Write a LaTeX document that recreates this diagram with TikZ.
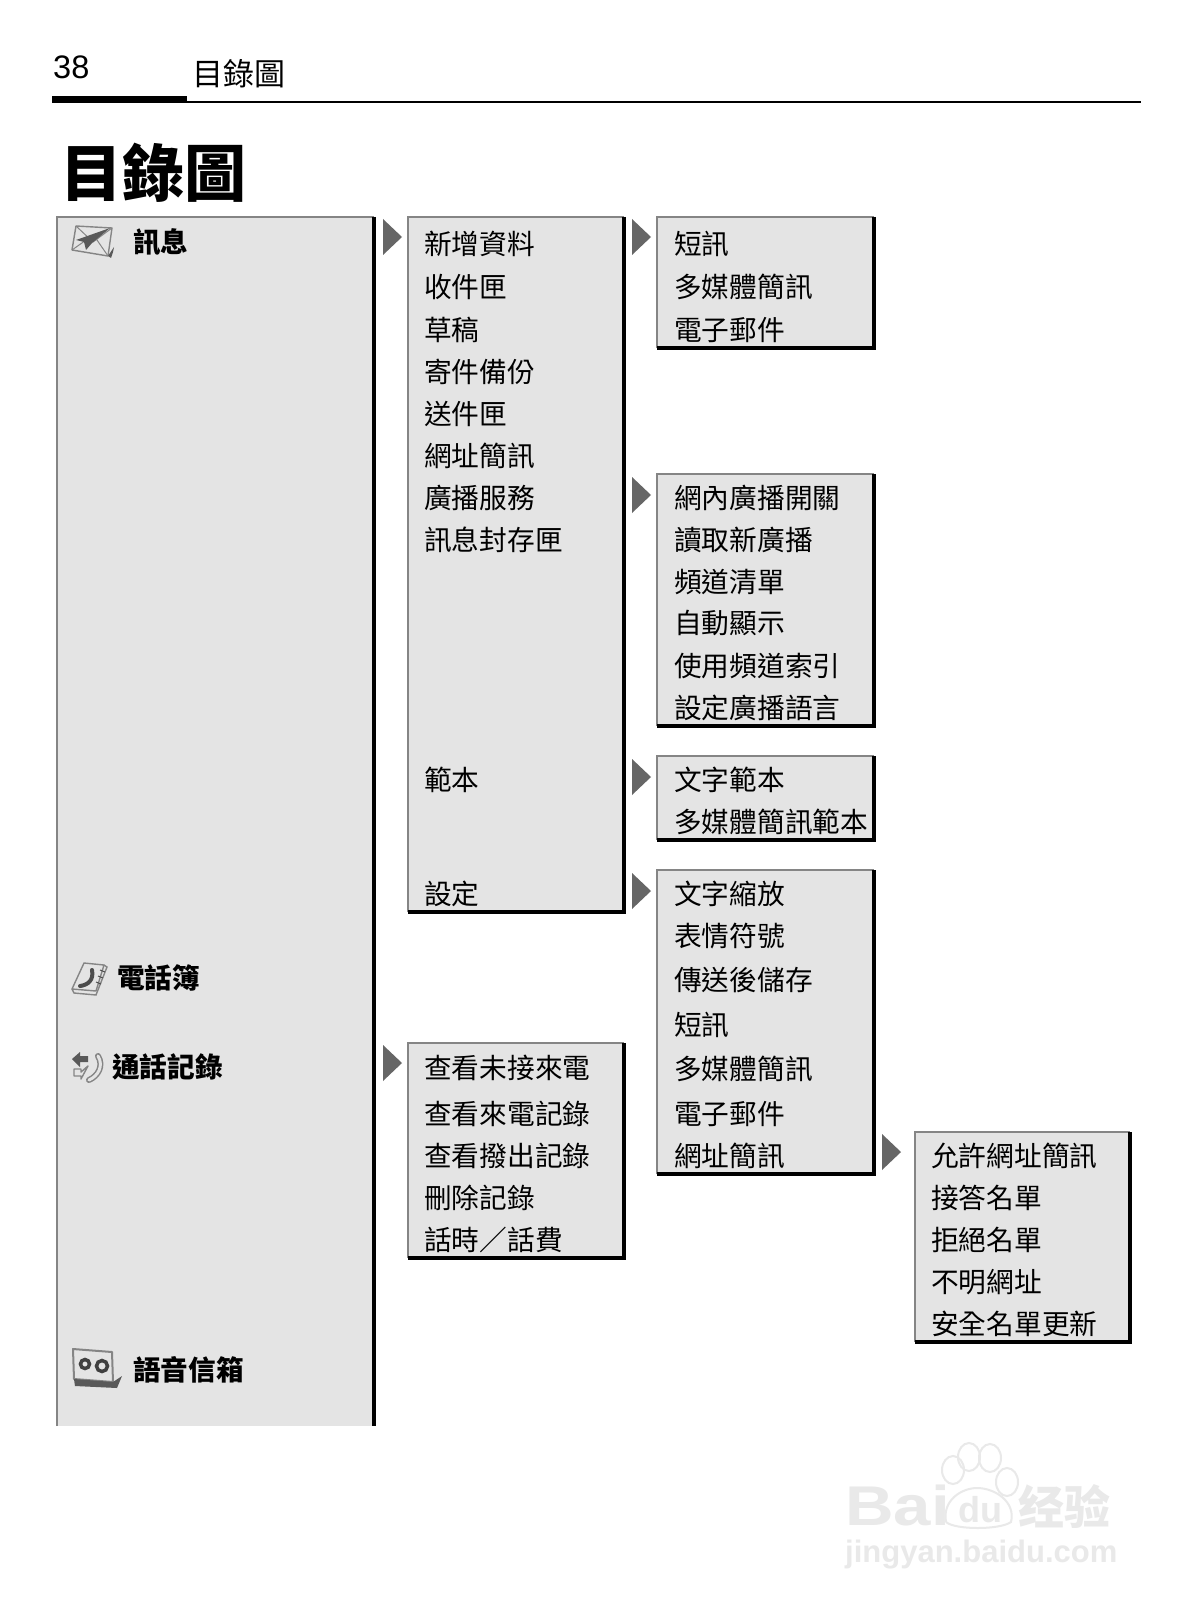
\documentclass[tikz,border=0pt]{standalone}
\usepackage{fontspec}
\setmainfont{Liberation Sans}
\newfontfamily\cjk{Noto Sans CJK TC}
\usetikzlibrary{positioning}
\definecolor{panelgray}{HTML}{E4E4E4}
\definecolor{edgegray}{HTML}{858585}
\definecolor{tipgray}{HTML}{666666}
\definecolor{markgray}{HTML}{E9E9E9}
\tikzset{
  menuitem/.style={anchor=west, inner sep=0pt, font=\cjk\fontsize{27.7}{30}\selectfont},
  rootitem/.style={anchor=west, inner sep=0pt, font=\cjk\bfseries\fontsize{27.6}{30}\selectfont},
  panel/.style={fill=panelgray},
  panellight/.style={draw=edgegray, line width=2pt},
  paneldark/.style={draw=black, line width=3.5pt},
  icon/.style={draw=edgegray, line width=1.4pt, fill=panelgray, line join=round},
  icondark/.style={fill=black!65}
}
\begin{document}
\begin{tikzpicture}[x=1pt, y=-1pt]
  \useasboundingbox[fill=white] (0,0) rectangle (1189,1621);

  % Page header
  \fill (52,96) rectangle (187,103);
  \draw[line width=2pt] (52,102) -- (1141,102);
  \node[anchor=west, inner sep=0pt, font=\fontsize{32.5}{34}\selectfont] (pagenum) at (53,67) {38};
  \node[anchor=west, inner sep=0pt, font=\cjk\fontsize{31}{32}\selectfont] (headtitle) at (192,74) {目錄圖};
  \node[anchor=west, inner sep=0pt, font=\cjk\bfseries\fontsize{62}{64}\selectfont] (pagetitle) at (60,173) {目錄圖};

  % Root panel, open at the bottom
  \fill[panel] (57,217) rectangle (374,1426);
  \draw[panellight] (57,1426) -- (57,217) -- (374,217);
  \draw[line width=4pt] (374,217) -- (374,1426);

  % Sub panels: left/top/right/bottom
  \foreach \xa/\ya/\xb/\yb in {408/217/624/912, 408/1043/624/1258, 657/217/874/348,
      657/474/874/726, 657/756/874/840, 657/870/874/1174, 915/1132/1130/1342} {
    \fill[panel] (\xa,\ya) rectangle (\xb,\yb);
    \draw[panellight] (\xa,\yb) -- (\xa,\ya) -- (\xb,\ya);
    \draw[paneldark] (\xb,\ya) -- (\xb,\yb) -- (\xa,\yb);
  }

  % Triangles pointing at the sub panels
  \foreach \xa/\ya in {383/219, 383/1045, 632/219, 632/477, 632/759, 632/873, 882/1134}
    \fill[tipgray] (\xa,\ya) -- ++(19,18) -- ++(-19,18) -- cycle;

  % Root entries
  \node[rootitem] (msg) at (133,242) {訊息};
  \node[rootitem] (book) at (117,978) {電話簿};
  \node[rootitem] (calls) at (112,1067) {通話記錄};
  \node[rootitem] (voice) at (133,1370) {語音信箱};

  % Envelope icon
  \draw[icon] (76,226) -- (112,228) -- (108,256) -- (72,250) -- cycle;
  \draw[edgegray, line width=1pt] (76,226) -- (93,242) -- (112,228) (72,250) -- (89,238) (108,256) -- (97,240);
  \fill[icondark] (110,228) -- (76,240) -- (84,242) -- (86,250) -- (92,243) -- cycle;
  \fill[icondark] (108,256) -- (114,247) -- (113,252) -- (111,258) -- cycle;

  % Phone book icon
  \draw[icon] (84,963) -- (104,965) -- (96,991) -- (72,989) -- cycle;
  \draw[edgegray, line width=1.4pt] (72,989) -- (74,993) -- (96,995) -- (107,967) -- (104,965);
  \draw[black!70, line width=4pt, line cap=round] (92,970) .. controls (94,980) and (88,985) .. (80,986);
  \draw[black!70, line width=1pt] (100,970) -- (105,972) (98,976) -- (103,978) (96,982) -- (101,984);

  % Call log icon
  \draw[edgegray, line width=6pt, line cap=round] (98,1056) .. controls (104,1066) and (98,1076) .. (89,1080);
  \draw[panelgray, line width=3pt, line cap=round] (98,1056) .. controls (104,1066) and (98,1076) .. (89,1080);
  \fill[icondark] (72,1059) -- (80,1052) -- (80,1056) -- (88,1056) -- (88,1062) -- (80,1062) -- (80,1067) -- cycle;
  \draw[icon] (88,1066) -- (81,1072) -- (81,1069) -- (74,1069) -- (74,1076) -- (81,1076) -- (81,1079) -- cycle;

  % Voice mail icon
  \draw[icon, line width=2pt] (73,1349) -- (112,1352) -- (113,1382) -- (74,1379) -- cycle;
  \fill[icondark] (74,1379) -- (113,1382) -- (122,1376) -- (117,1388) -- (75,1386) -- cycle;
  \draw[black!75, line width=3.5pt] (85,1364) circle (4.5pt) (102,1366) circle (5.5pt);

  % Second level entries
  \foreach \y/\t [count=\i] in {244/新增資料, 287/收件匣, 330/草稿, 372/寄件備份, 414/送件匣,
      456/網址簡訊, 498/廣播服務, 540/訊息封存匣, 780/範本, 894/設定}
    \node[menuitem] (msg\i) at (424,\y) {\t};
  \foreach \y/\t [count=\i] in {1068/查看未接來電, 1114/查看來電記錄, 1156/查看撥出記錄,
      1198/刪除記錄, 1240/話時／話費}
    \node[menuitem] (call\i) at (424,\y) {\t};

  % Third level entries
  \foreach \y/\t [count=\i] in {244/短訊, 287/多媒體簡訊, 330/電子郵件}
    \node[menuitem] (new\i) at (674,\y) {\t};
  \foreach \y/\t [count=\i] in {498/網內廣播開關, 540/讀取新廣播, 582/頻道清單, 623/自動顯示,
      666/使用頻道索引, 708/設定廣播語言}
    \node[menuitem] (cell\i) at (674,\y) {\t};
  \foreach \y/\t [count=\i] in {780/文字範本, 822/多媒體簡訊範本}
    \node[menuitem] (tmpl\i) at (674,\y) {\t};
  \foreach \y/\t [count=\i] in {894/文字縮放, 936/表情符號, 980/傳送後儲存, 1025/短訊,
      1069/多媒體簡訊, 1114/電子郵件, 1156/網址簡訊}
    \node[menuitem] (conf\i) at (674,\y) {\t};

  % Fourth level entries
  \foreach \y/\t [count=\i] in {1156/允許網址簡訊, 1198/接答名單, 1240/拒絕名單, 1282/不明網址, 1324/安全名單更新}
    \node[menuitem] (wap\i) at (931,\y) {\t};

  % Watermark
  \foreach \xa/\ya/\xr/\yr in {953/1470/11/14, 969/1457/11/14, 990/1458/11/14, 1007/1482/11/14}
    \draw[markgray, line width=2pt] (\xa,\ya) ellipse ({\xr pt} and {\yr pt});
  \draw[markgray, line width=2pt] (946,1522) .. controls (942,1500) and (962,1488) .. (977,1488)
     .. controls (995,1488) and (1016,1502) .. (1011,1522) .. controls (1000,1530) and (955,1530) .. (946,1522);
  \node[anchor=west, inner sep=0pt, text=markgray, xscale=1.2, font=\bfseries\fontsize{56}{60}\selectfont] (markbai) at (845,1505) {Bai};
  \node[anchor=west, inner sep=0pt, text=markgray, font=\bfseries\fontsize{36}{40}\selectfont] (markdu) at (958,1510) {du};
  \node[anchor=west, inner sep=0pt, text=markgray, font=\cjk\bfseries\fontsize{46}{50}\selectfont] (markcn) at (1018,1506) {经验};
  \node[anchor=west, inner sep=0pt, text=markgray, font=\bfseries\fontsize{31}{36}\selectfont] (markurl) at (845,1555) {jingyan.baidu.com};
\end{tikzpicture}
\end{document}
